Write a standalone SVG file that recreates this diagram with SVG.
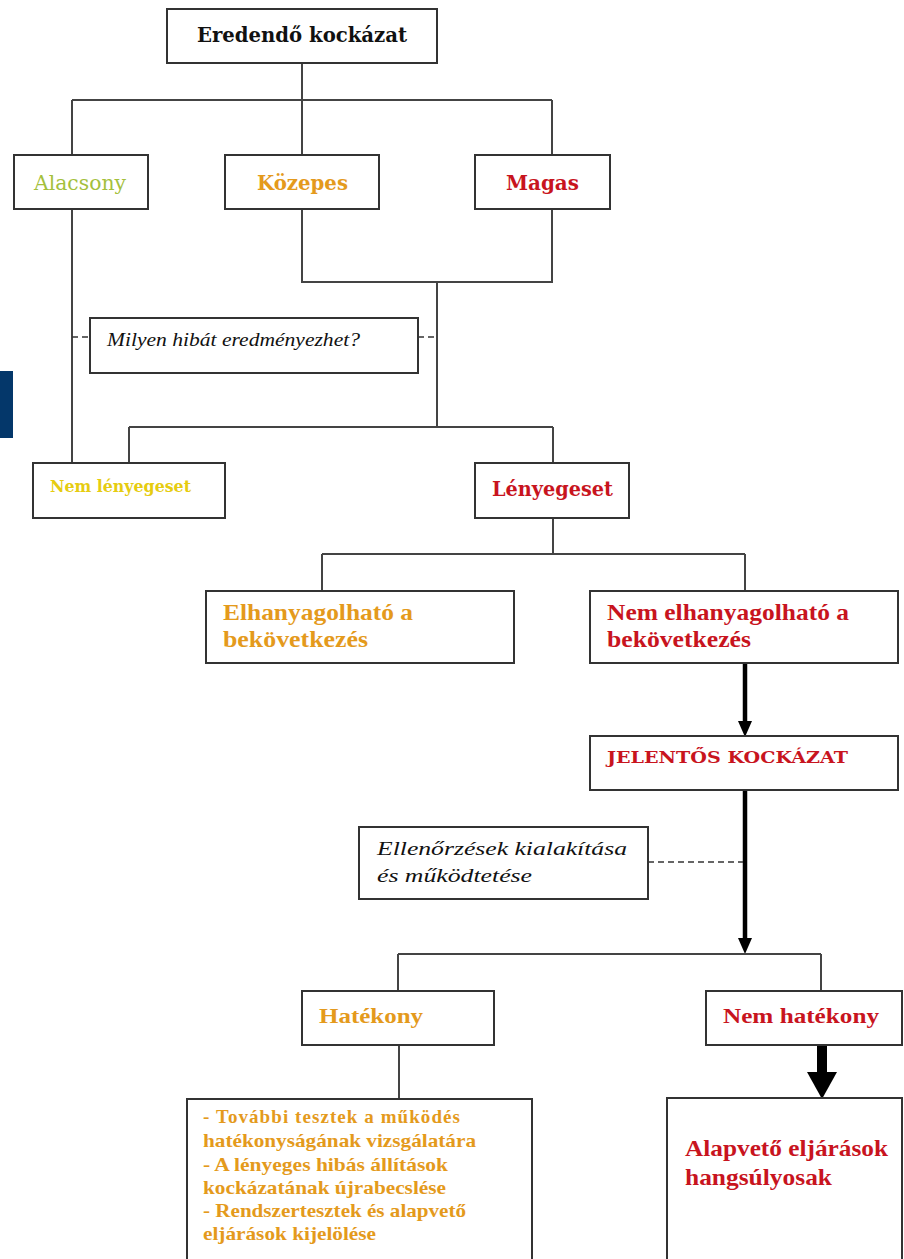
<svg xmlns="http://www.w3.org/2000/svg" width="904" height="1259" viewBox="0 0 904 1259">
<style>
.box{fill:#fff;stroke:#333;stroke-width:2}
.ln{fill:none;stroke:#444;stroke-width:2}
.dash{fill:none;stroke:#333;stroke-width:1.5;stroke-dasharray:6 4}
.thick{fill:none;stroke:#000;stroke-width:4.5}
.big{fill:none;stroke:#000;stroke-width:10}
.dj{font-family:"DejaVu Serif","Liberation Serif",serif;font-weight:bold}
.ls{font-family:"Liberation Serif","DejaVu Serif",serif;font-weight:bold}
.it{font-family:"Liberation Serif","DejaVu Serif",serif;font-style:italic;fill:#111}
.red{fill:#c8141e}
.org{fill:#e49a1c}
</style>
<defs>
<marker id="arr" markerUnits="userSpaceOnUse" markerWidth="16" markerHeight="14" refX="0" refY="7" orient="auto">
<path d="M0,0 L16,7 L0,14 z" fill="#000"/>
</marker>
<marker id="arrBig" markerUnits="userSpaceOnUse" markerWidth="27" markerHeight="30" refX="0" refY="15" orient="auto">
<path d="M0,0 L27,15 L0,30 z" fill="#000"/>
</marker>
</defs>
<rect x="0" y="371" width="13" height="67" fill="#04376a"/>
<g id="connectors">
<path class="ln" d="M302,63 V100 M72,100 H552 M72,100 V155 M302,100 V155 M552,100 V155"/>
<path class="ln" d="M72,209 V463"/>
<path class="ln" d="M302,209 V282 H552 V209 M437,282 V427 M129,427 H553 M129,427 V463 M553,427 V463"/>
<path class="dash" d="M72,337 H90 M418,337 H437"/>
<path class="ln" d="M553,518 V554 M322,554 H745 M322,554 V591 M745,554 V591"/>
<line class="thick" x1="745" y1="663" x2="745" y2="721" marker-end="url(#arr)"/>
<line class="thick" x1="745" y1="790" x2="745" y2="938" marker-end="url(#arr)"/>
<path class="dash" d="M648,862 H743"/>
<path class="ln" d="M398,954 H821 M398,954 V991 M821,954 V991"/>
<path class="ln" d="M399,1045 V1099"/>
<line class="big" x1="822" y1="1045" x2="822" y2="1072" marker-end="url(#arrBig)"/>
</g>
<g id="n-eredendo">
<rect class="box" x="167" y="9" width="270" height="54"/>
<text class="dj" x="197" y="42" font-size="20" fill="#111" textLength="210" lengthAdjust="spacingAndGlyphs">Eredendő kockázat</text>
</g>
<g id="n-alacsony">
<rect class="box" x="14" y="155" width="134" height="54"/>
<text x="34" y="190" font-family="DejaVu Serif,Liberation Serif,serif" font-size="20" fill="#a4c03c" textLength="92" lengthAdjust="spacingAndGlyphs">Alacsony</text>
</g>
<g id="n-kozepes">
<rect class="box" x="225" y="155" width="154" height="54"/>
<text class="dj org" x="257" y="190" font-size="20" textLength="91" lengthAdjust="spacingAndGlyphs">Közepes</text>
</g>
<g id="n-magas">
<rect class="box" x="475" y="155" width="135" height="54"/>
<text class="dj red" x="506" y="190" font-size="20" textLength="73" lengthAdjust="spacingAndGlyphs">Magas</text>
</g>
<g id="n-milyen">
<rect class="box" x="90" y="318" width="328" height="55"/>
<text class="it" x="107" y="346" font-size="18" textLength="253" lengthAdjust="spacingAndGlyphs">Milyen hibát eredményezhet?</text>
</g>
<g id="n-nemlenyeges">
<rect class="box" x="33" y="463" width="192" height="55"/>
<text class="dj" x="50" y="492" font-size="16" fill="#e6cc10" textLength="141" lengthAdjust="spacingAndGlyphs">Nem lényegeset</text>
</g>
<g id="n-lenyeges">
<rect class="box" x="475" y="463" width="154" height="55"/>
<text class="dj red" x="492" y="496" font-size="20" textLength="121" lengthAdjust="spacingAndGlyphs">Lényegeset</text>
</g>
<g id="n-elhanyagolhato">
<rect class="box" x="206" y="591" width="308" height="72"/>
<text class="ls org" x="223" y="620" font-size="23" textLength="190" lengthAdjust="spacingAndGlyphs">Elhanyagolható a</text>
<text class="ls org" x="223" y="647" font-size="23" textLength="145" lengthAdjust="spacingAndGlyphs">bekövetkezés</text>
</g>
<g id="n-nemelhanyagolhato">
<rect class="box" x="590" y="591" width="308" height="72"/>
<text class="ls red" x="607" y="620" font-size="23" textLength="242" lengthAdjust="spacingAndGlyphs">Nem elhanyagolható a</text>
<text class="ls red" x="607" y="647" font-size="23" textLength="144" lengthAdjust="spacingAndGlyphs">bekövetkezés</text>
</g>
<g id="n-jelentos">
<rect class="box" x="590" y="736" width="308" height="54"/>
<text class="dj red" x="607" y="763" font-size="16" textLength="241" lengthAdjust="spacingAndGlyphs">JELENTŐS KOCKÁZAT</text>
</g>
<g id="n-ellenorzesek">
<rect class="box" x="359" y="827" width="289" height="72"/>
<text class="it" x="377" y="855" font-size="19" textLength="250" lengthAdjust="spacingAndGlyphs">Ellenőrzések kialakítása</text>
<text class="it" x="377" y="882" font-size="19" textLength="155" lengthAdjust="spacingAndGlyphs">és működtetése</text>
</g>
<g id="n-hatekony">
<rect class="box" x="302" y="991" width="192" height="54"/>
<text class="ls org" x="319" y="1023" font-size="22" textLength="104" lengthAdjust="spacingAndGlyphs">Hatékony</text>
</g>
<g id="n-nemhatekony">
<rect class="box" x="706" y="991" width="196" height="54"/>
<text class="ls red" x="723" y="1023" font-size="22" textLength="156" lengthAdjust="spacingAndGlyphs">Nem hatékony</text>
</g>
<g id="n-tovabbi">
<rect class="box" x="187" y="1099" width="345" height="175"/>
<text class="ls org" font-size="19" lengthAdjust="spacingAndGlyphs">
<tspan x="203" y="1123" textLength="257">- További tesztek a működés</tspan>
</text>
<text class="ls org" x="203" y="1147" font-size="19" textLength="273" lengthAdjust="spacingAndGlyphs">hatékonyságának vizsgálatára</text>
<text class="ls org" x="203" y="1171" font-size="19" textLength="245" lengthAdjust="spacingAndGlyphs">- A lényeges hibás állítások</text>
<text class="ls org" x="203" y="1194" font-size="19" textLength="243" lengthAdjust="spacingAndGlyphs">kockázatának újrabecslése</text>
<text class="ls org" x="203" y="1217" font-size="19" textLength="263" lengthAdjust="spacingAndGlyphs">- Rendszertesztek és alapvető</text>
<text class="ls org" x="203" y="1240" font-size="19" textLength="173" lengthAdjust="spacingAndGlyphs">eljárások kijelölése</text>
</g>
<g id="n-alapveto">
<rect class="box" x="667" y="1098" width="235" height="175"/>
<text class="ls red" x="685" y="1156" font-size="24" textLength="203" lengthAdjust="spacingAndGlyphs">Alapvető eljárások</text>
<text class="ls red" x="685" y="1185" font-size="24" textLength="147" lengthAdjust="spacingAndGlyphs">hangsúlyosak</text>
</g>
</svg>
